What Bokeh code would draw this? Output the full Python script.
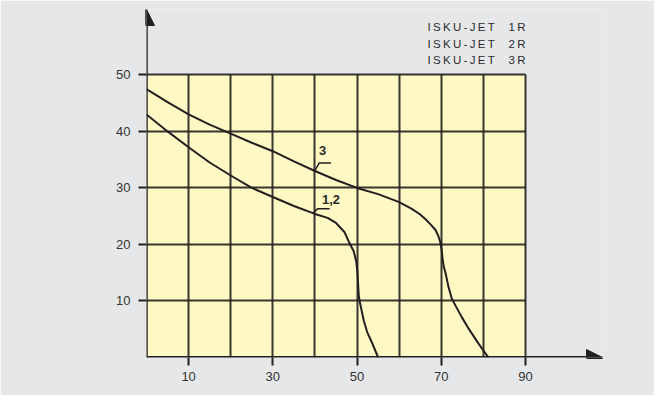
from bokeh.plotting import figure
from bokeh.models import Range1d, FixedTicker, Arrow, NormalHead, Label
from bokeh.embed import file_html
from bokeh.resources import INLINE

# ---- data ----
x_ticks = [10, 30, 50, 70, 90]
y_ticks = [10, 20, 30, 40, 50]
x_grid = [10, 20, 30, 40, 50, 60, 70, 80, 90]
y_grid = [10, 20, 30, 40, 50]

q_12 = [0, 5, 10, 15, 20, 25, 30, 35, 40, 43, 45, 47, 48.1, 49.2, 49.8, 50.1, 50.25, 50.4, 50.6, 51.0, 51.6, 52.4, 53.5, 55]
h_12 = [43, 40, 37.2, 34.5, 32.2, 30, 28.4, 26.8, 25.4, 24.7, 23.8, 22.2, 20.4, 18.8, 17, 15, 13, 11, 10, 8.6, 6.5, 4.5, 2.7, 0]

q_3 = [0, 5, 10, 15, 20, 25, 30, 35, 40, 45, 50, 55, 60, 63, 65, 66.2, 67.5, 68.6, 69.3, 69.8, 70.1, 70.3, 70.6, 71.0, 71.7, 72.5, 73.5, 74.9, 76.5, 78.8, 81.2]
h_3 = [47.5, 45.2, 43, 41.2, 39.6, 38, 36.5, 34.7, 33, 31.4, 30, 28.9, 27.5, 26.3, 25.3, 24.5, 23.5, 22.6, 21.5, 20.3, 19, 17.5, 16, 15, 12.5, 10.4, 9, 7.1, 5.1, 2.5, 0]

lead_3_x = [40, 41, 43.8]
lead_3_y = [33.1, 34.4, 34.4]
lead_12_x = [39.6, 40.6, 43.5]
lead_12_y = [25.5, 26.3, 26.3]

models = ["I\u2009S\u2009K\u2009U\u2009-\u2009J\u2009E\u2009T\u2003\u20091\u2009R",
          "I\u2009S\u2009K\u2009U\u2009-\u2009J\u2009E\u2009T\u2003\u20092\u2009R",
          "I\u2009S\u2009K\u2009U\u2009-\u2009J\u2009E\u2009T\u2003\u20093\u2009R"]

INK = "#231f20"
GREY = "#e6e7e8"
YELLOW = "#fef9c4"
FONT = "Liberation Sans"

p = figure(width=654, height=395, output_backend="svg", toolbar_location=None,
           x_range=Range1d(0, 108.28), y_range=Range1d(0, 61.57),
           min_border_left=146, min_border_right=52, min_border_top=9, min_border_bottom=38)
p.background_fill_color = GREY
p.border_fill_color = GREY
p.outline_line_color = None

# yellow field
p.quad(left=[0], right=[90], bottom=[0], top=[50], fill_color=YELLOW, line_color=None, level="image")

# grids
p.xgrid.ticker = FixedTicker(ticks=x_grid)
p.ygrid.ticker = FixedTicker(ticks=y_grid)
p.xgrid.cross_bounds = (0, 50)
p.ygrid.cross_bounds = (0, 90)
for g in (p.xgrid, p.ygrid):
    g.grid_line_color = INK
    g.grid_line_width = 2
    g.grid_line_alpha = 0.9

# axes
p.xaxis.ticker = FixedTicker(ticks=x_ticks)
p.yaxis.ticker = FixedTicker(ticks=y_ticks)
for ax in (p.xaxis, p.yaxis):
    ax.axis_line_color = None
    ax.major_tick_line_color = INK
    ax.major_tick_line_width = 2
    ax.major_tick_out = 8
    ax.major_tick_in = 0
    ax.minor_tick_line_color = None
    ax.major_label_text_font = FONT
    ax.major_label_text_font_size = "13px"
    ax.major_label_text_color = "#333333"
p.xaxis.major_label_standoff = 6
p.yaxis.major_label_standoff = 8

# axis arrows
p.add_layout(Arrow(x_start=0, y_start=0, x_end=0, y_end=61.57, line_color=INK, line_width=2.5,
                   end=NormalHead(size=16, fill_color=INK, line_color=INK, line_width=1)))
p.add_layout(Arrow(x_start=0, y_start=0, x_end=108.28, y_end=0, line_color=INK, line_width=3,
                   end=NormalHead(size=16, fill_color=INK, line_color=INK, line_width=1)))

# curves
p.line(q_12, h_12, line_color=INK, line_width=2)
p.line(q_3, h_3, line_color=INK, line_width=2)
p.line(lead_3_x, lead_3_y, line_color=INK, line_width=1.5)
p.line(lead_12_x, lead_12_y, line_color=INK, line_width=1.5)

def lab(x, y, t, size="12px", align="center", bold=False):
    p.add_layout(Label(x=x, y=y, text=t, text_font=FONT, text_font_size=size,
                       text_align=align, text_baseline="middle", text_color="#2b2b2b",
                       text_font_style="bold" if bold else "normal"))

lab(41.8, 36.6, "3", size="13px", bold=True)
lab(43.8, 28.0, "1,2", size="13px", bold=True)
lab(-6.17, 58.74, "H")
lab(-5.94, 56.09, "m  vp")
for t, yy in zip(models, [58.39, 55.38, 52.55]):
    lab(90, yy, t, size="11.5px", align="right")
lab(96.17, -3.89, "Q = dm\u00b3/min", size="13px", align="left")

open("out.html", "w").write(file_html(p, INLINE))
